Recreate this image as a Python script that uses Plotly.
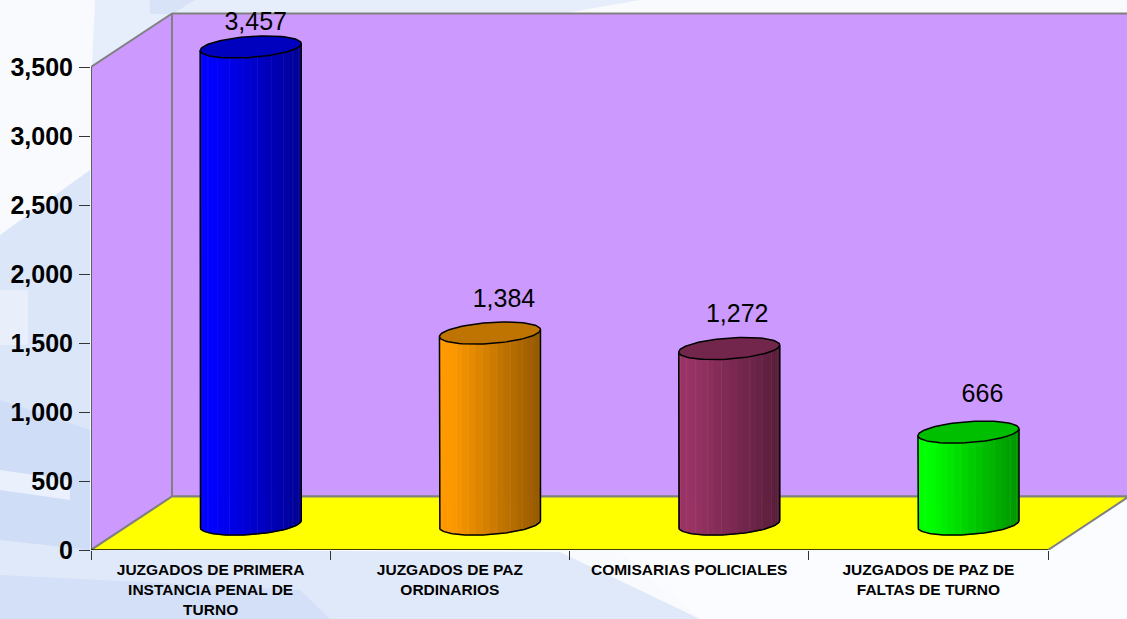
import math
import plotly.graph_objects as go

# ---- data ----
categories = [
    "JUZGADOS DE PRIMERA<br>INSTANCIA PENAL DE<br>TURNO",
    "JUZGADOS DE PAZ<br>ORDINARIOS",
    "COMISARIAS POLICIALES",
    "JUZGADOS DE PAZ DE<br>FALTAS DE TURNO",
]
values = [3457, 1384, 1272, 666]
value_ticks = [0, 500, 1000, 1500, 2000, 2500, 3000, 3500]

# ---- styles ----
bar_colors = [(0, 0, 255), (255, 153, 0), (153, 51, 102), (0, 255, 0)]
label_nudge = [(5, -23), (14, -32), (8, -33), (14, -36)]  # px, from cap centre

W, H = 1127, 619
X0, Y0 = 91, 550            # pixel of the axes origin
XS = (1048 - 91) / 4        # px per category
YS = 483 / 3500             # px per unit
DX, DY = 81, 53.5           # 3D depth in px
A, B, SK = 50.5, 10.5, -3.5 # cylinder half-width, half-height, skew (px)
N = 22


def px(cat, val, ox=0.0, oy=0.0):
    """Data coordinates of (cat, val) moved by a pixel offset (oy is up)."""
    return cat + ox / XS, val + oy / YS


def poly(points):
    xs, ys = zip(*points)
    return list(xs), list(ys)


def shade(rgb, f, white=0.0):
    c = [v * f + (255 - v * f) * white for v in rgb]
    return "rgb(%d,%d,%d)" % tuple(round(v) for v in c)


fig = go.Figure()


def area(points, fill=None, line=None, width=0):
    xs, ys = poly(points)
    fig.add_trace(go.Scatter(
        x=xs, y=ys, mode="lines",
        fill="toself" if fill else "none",
        fillcolor=fill,
        line=dict(color=line or fill, width=width),
        hoverinfo="skip", showlegend=False))


top = value_ticks[-1]
n = len(categories)
WALL, FLOOR, EDGE = "#CC99FF", "#FFFF00", "#808080"

# back wall, side wall, floor
area([px(0, 0, DX, DY), px(n, 0, DX, DY), px(n, top, DX, DY), px(0, top, DX, DY)], WALL, EDGE, 2)
area([px(0, 0), px(0, 0, DX, DY), px(0, top, DX, DY), px(0, top)], WALL, EDGE, 2)
area([px(0, 0), px(0, 0, DX, DY), px(n, 0, DX, DY), px(n, 0)], FLOOR, EDGE, 2)
area([px(0, 0), px(0, top)], None, "#606060", 2)
area([px(0, 0), px(n, 0)], None, "#000000", 1.6)

# cylinders
for i, (v, rgb, nudge) in enumerate(zip(values, bar_colors, label_nudge)):
    cat = i + 0.5
    ox, oy = DX * 0.495, DY * 0.485

    def rim(val, t):
        return px(cat, val, ox + A * math.cos(t), oy - B * math.sin(t) - SK * math.cos(t))

    angles = [math.pi * (1 - k / N) for k in range(N + 1)]
    for k in range(N):
        a0, a1 = angles[k], angles[k + 1]
        u = 0.5 + 0.5 * math.cos((a0 + a1) / 2)   # 0 at left edge, 1 at right edge
        f = 1 - 0.42 * max(0, (u - 0.12) / 0.88)
        sub = [a0 + (a1 - a0) * j / 3 for j in range(4)]
        pts = [rim(0, t) for t in sub] + [rim(v, t) for t in reversed(sub)]
        area(pts + [pts[0]], shade(rgb, f), shade(rgb, f), 0.8)
        if k % 2 == 1:
            area([rim(0, a1), rim(v, a1)], None, shade(rgb, f, 0.28), 0.7)

    fine = [math.pi * (1 - k / 72) for k in range(73)]
    # outline of the body
    area([rim(v, math.pi)] + [rim(0, t) for t in fine] + [rim(v, 0)], None, "#000000", 1.5)
    # cap
    cap = [math.pi * 2 * k / 96 for k in range(97)]
    area([rim(v, t) for t in cap], shade(rgb, 0.75), "#000000", 1.5)

    lx, ly = px(cat, v, ox + nudge[0], oy - nudge[1])
    fig.add_trace(go.Scatter(
        x=[lx], y=[ly], mode="text", text=[f"{v:,}"],
        textposition="middle center",
        textfont=dict(family="Liberation Sans, Arial, sans-serif", size=25, color="#000000"),
        hoverinfo="skip", showlegend=False, cliponaxis=False))


# ---- washed-out background ----
def bg(path_pts, color):
    d = "M" + " L".join(f"{x/W:.4f},{1-y/H:.4f}" for x, y in path_pts) + " Z"
    return dict(type="path", path=d, xref="paper", yref="paper",
                fillcolor=color, line=dict(width=0), layer="below")


shapes = [
    bg([(0, 0), (W, 0), (W, H), (0, H)], "#F8FAFE"),
    bg([(95, 0), (640, 0), (560, 14), (172, 14), (92, 68)], "#E6EDFB"),
    bg([(150, 0), (195, 0), (172, 14), (150, 14)], "#D8E3F8"),
    bg([(0, 235), (90, 170), (90, 440), (0, 410)], "#DCE6F9"),
    bg([(0, 400), (90, 430), (90, 560), (0, 540)], "#D0DDF6"),
    bg([(0, 290), (28, 290), (28, 345), (0, 345)], "#E8EFFB"),
    bg([(0, 540), (90, 550), (560, 552), (700, 619), (0, 619)], "#E0E9FA"),
    bg([(0, 575), (300, 590), (330, 619), (0, 619)], "#D3E0F7"),
    bg([(0, 470), (70, 480), (70, 500), (0, 490)], "#EAF0FC"),
    bg([(1050, 552), (1127, 500), (1127, 619), (700, 619), (620, 552)], "#FBFCFF"),
]

fig.update_layout(
    width=W, height=H,
    margin=dict(l=0, r=0, t=0, b=0, autoexpand=False),
    paper_bgcolor="#FFFFFF", plot_bgcolor="rgba(0,0,0,0)",
    showlegend=False, shapes=shapes, hovermode=False,
    font=dict(family="Liberation Sans, Arial, sans-serif", color="#000000"),
    xaxis=dict(
        domain=[X0 / W, 1], range=[0, (W - X0) / XS], automargin=False,
        tickmode="array", tickvals=[i + 0.5 for i in range(n)], ticktext=categories,
        ticks="", showgrid=False, zeroline=False, showline=False,
        tickangle=0, ticklabelstandoff=8,
        tickfont=dict(size=15.5, family="Liberation Sans, Arial, sans-serif", weight="bold"),
        minor=dict(tickmode="array", tickvals=list(range(n + 1)), ticks="outside",
                   ticklen=9, tickwidth=1, tickcolor="#333333", showgrid=False),
    ),
    yaxis=dict(
        domain=[(H - Y0) / H, 1], range=[0, Y0 / YS], automargin=False,
        tickmode="array", tickvals=value_ticks, tickformat=",",
        ticks="outside", ticklen=11, tickwidth=1, tickcolor="#333333",
        ticklabelstandoff=1, showgrid=False, zeroline=False, showline=False,
        tickfont=dict(size=25, family="Liberation Sans, Arial, sans-serif", weight="bold"),
    ),
)

fig.write_html("out.html", config=dict(displayModeBar=False),
               post_script="document.body.style.margin='0';document.documentElement.style.overflow='hidden';")
